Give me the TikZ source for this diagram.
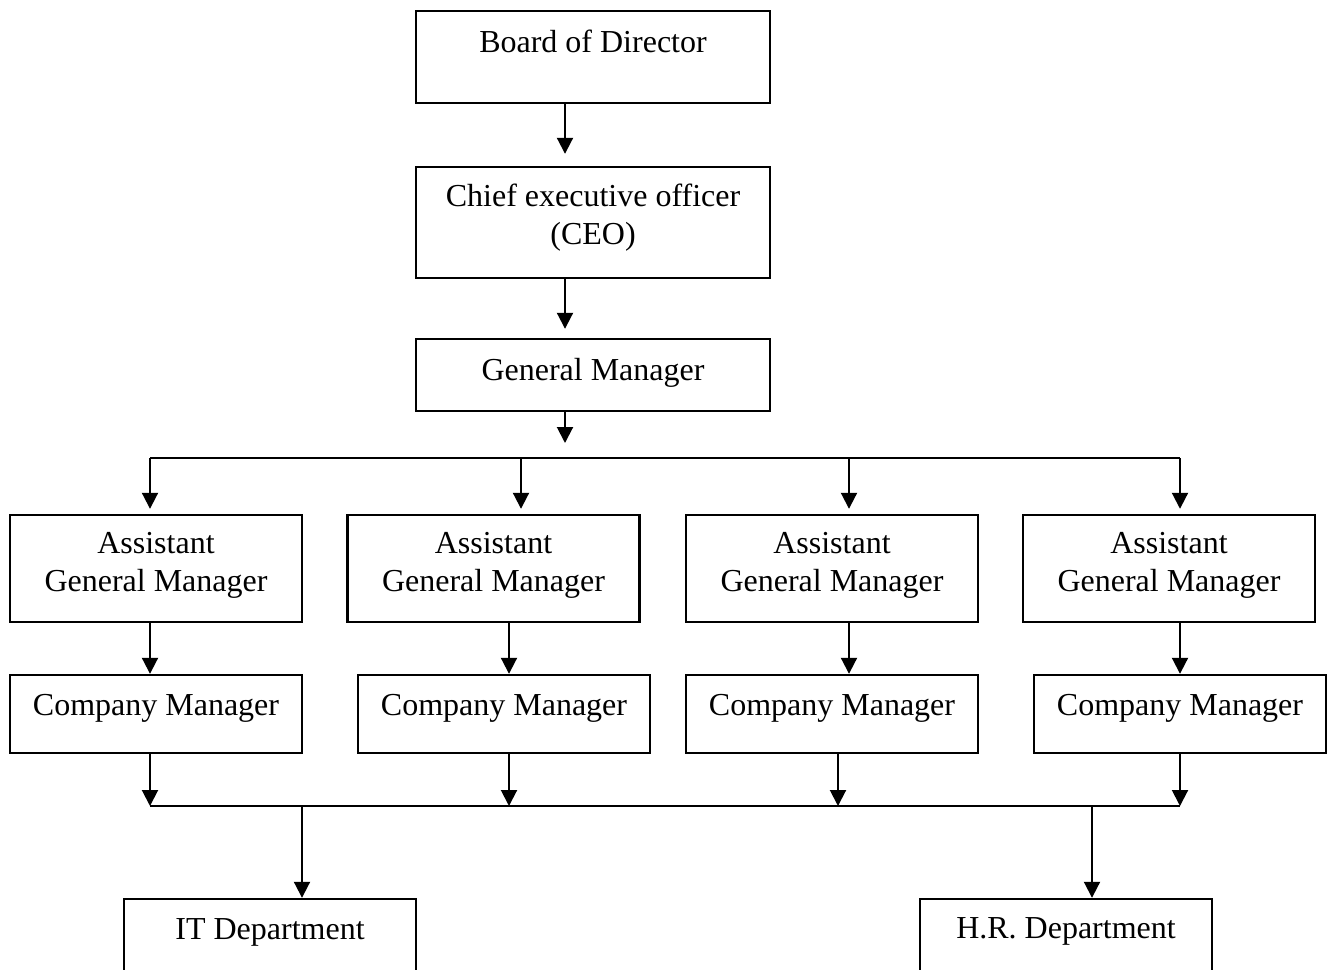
\documentclass[tikz,border=0pt]{standalone}
\usepackage{fontspec}
\setmainfont{Liberation Serif}
\usetikzlibrary{arrows.meta}
\tikzset{
  box/.style={draw=black, line width=1.2pt, rectangle, inner sep=0pt, minimum width=146pt},
  txt/.style={font=\fontsize{16}{18.8}\selectfont, align=center, inner sep=0pt, anchor=base},
  arr/.style={line width=1pt, -{Triangle[length=8pt,width=8pt]}},
  ln/.style={line width=1pt}
}
\begin{document}
\begin{tikzpicture}[x=0.5pt,y=-0.5pt]
\useasboundingbox (0,0) rectangle (1333,969);
\clip (0,0) rectangle (1333,969);
% top chain
\node[box, minimum width=177pt, minimum height=46pt] (bod) at (593,57) {};
\node[txt] (bodt) at (593,52) {Board of Director};
\node[box, minimum width=177pt, minimum height=55.5pt] (ceo) at (593,222.5) {};
\node[txt] (ceot) at (593,244) {Chief executive officer\\(CEO)};
\node[box, minimum width=177pt, minimum height=36pt] (gm) at (593,375) {};
\node[txt] (gmt) at (593,380) {General Manager};
% assistant general managers
\node[box, minimum height=53.5pt] (agm1) at (156,568.5) {};
\node[box, minimum height=53.5pt] (agm2) at (493.5,568.5) {};
\node[box, minimum height=53.5pt] (agm3) at (832,568.5) {};
\node[box, minimum height=53.5pt] (agm4) at (1169,568.5) {};
\node[txt] (agm1t) at (156,591.5) {Assistant\\General Manager};
\node[txt] (agm2t) at (493.5,591.5) {Assistant\\General Manager};
\node[txt] (agm3t) at (832,591.5) {Assistant\\General Manager};
\node[txt] (agm4t) at (1169,591.5) {Assistant\\General Manager};
% company managers
\node[box, minimum height=39pt] (cm1) at (156,714) {};
\node[box, minimum height=39pt] (cm2) at (504,714) {};
\node[box, minimum height=39pt] (cm3) at (832,714) {};
\node[box, minimum height=39pt] (cm4) at (1180,714) {};
\node[txt] (cm1t) at (156,715) {Company Manager};
\node[txt] (cm2t) at (504,715) {Company Manager};
\node[txt] (cm3t) at (832,715) {Company Manager};
\node[txt] (cm4t) at (1180,715) {Company Manager};
% departments
\node[box, minimum height=55pt] (it) at (270,954) {};
\node[box, minimum height=55pt] (hr) at (1066,954) {};
\node[txt] (itt) at (270,939) {IT Department};
\node[txt] (hrt) at (1066,938) {H.R. Department};
% junction coordinates
\coordinate (gmend) at (565,443);
\coordinate (t1) at (150,458);
\coordinate (t2) at (521,458);
\coordinate (t3) at (849,458);
\coordinate (t4) at (1180,458);
\coordinate (m1) at (150,0);
\coordinate (m2) at (509,0);
\coordinate (m3) at (849,0);
\coordinate (m4) at (1180,0);
\coordinate (b1) at (150,806);
\coordinate (b2) at (509,806);
\coordinate (b3) at (838,806);
\coordinate (b4) at (1180,806);
\coordinate (dit) at (302,806);
\coordinate (dhr) at (1092,806);
% connectors
\draw[arr] (bod.south -| gmend) -- ([yshift=6pt]ceo.north -| gmend);
\draw[arr] (ceo.south -| gmend) -- ([yshift=4.5pt]gm.north -| gmend);
\draw[arr] (gm.south -| gmend) -- (gmend);
\draw[ln] (t1) -- (t4);
\draw[arr] (t1) -- ([yshift=2.5pt]agm1.north -| t1);
\draw[arr] (t2) -- ([yshift=2.5pt]agm2.north -| t2);
\draw[arr] (t3) -- ([yshift=2.5pt]agm3.north -| t3);
\draw[arr] (t4) -- ([yshift=2.5pt]agm4.north -| t4);
\draw[arr] (agm1.south -| m1) -- (cm1.north -| m1);
\draw[arr] (agm2.south -| m2) -- (cm2.north -| m2);
\draw[arr] (agm3.south -| m3) -- (cm3.north -| m3);
\draw[arr] (agm4.south -| m4) -- (cm4.north -| m4);
\draw[arr] (cm1.south -| b1) -- (b1);
\draw[arr] (cm2.south -| b2) -- (b2);
\draw[arr] (cm3.south -| b3) -- (b3);
\draw[arr] (cm4.south -| b4) -- (b4);
\draw[ln] (b1) -- (b4);
\draw[arr] (dit) -- (it.north -| dit);
\draw[arr] (dhr) -- (hr.north -| dhr);
\end{tikzpicture}
\end{document}
